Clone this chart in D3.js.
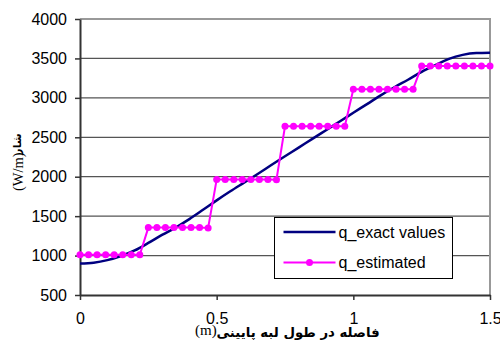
<!DOCTYPE html>
<html>
<head>
<meta charset="utf-8">
<script src="https://cdn.jsdelivr.net/npm/d3@7"></script>
<style>
  body { margin: 0; background: #fff; }
</style>
</head>
<body>
<div id="chart"></div>
<script>
// q_exact values
const exactX = [0, 0.05, 0.1, 0.15, 0.2, 0.25, 0.3, 0.35, 0.4, 0.45, 0.5, 0.55, 0.6, 0.65, 0.7, 0.75,
                0.8, 0.85, 0.9, 0.95, 1.0, 1.05, 1.1, 1.15, 1.2, 1.25, 1.3, 1.35, 1.4, 1.45, 1.5];
const exactQ = [900, 910, 942, 995, 1065, 1160, 1262, 1355, 1462, 1580, 1700, 1815, 1925, 2035, 2148, 2259,
                2369, 2480, 2590, 2700, 2811, 2921, 3032, 3135, 3230, 3330, 3415, 3495, 3545, 3568, 3572];

// q_estimated, 49 points on the mesh
const estQ = [1010, 1010, 1010, 1010, 1010, 1010, 1010, 1010,
              1355, 1355, 1355, 1355, 1355, 1355, 1355, 1350,
              1965, 1965, 1965, 1965, 1965, 1965, 1965, 1962,
              2640, 2640, 2640, 2640, 2640, 2640, 2640, 2640,
              3110, 3110, 3110, 3110, 3110, 3110, 3110, 3110,
              3405, 3405, 3405, 3405, 3405, 3405, 3405, 3405, 3405];
const estX = d3.range(estQ.length).map(i => i * 1.5 / (estQ.length - 1));

const xTicks = [0, 0.5, 1, 1.5];
const yTicks = [500, 1000, 1500, 2000, 2500, 3000, 3500, 4000];

const W = 500, H = 342;
const margin = {top: 19, right: 10, bottom: 47, left: 80};
const width = W - margin.left - margin.right,
      height = H - margin.top - margin.bottom;

const svg = d3.select("#chart").append("svg")
    .attr("width", W)
    .attr("height", H);

const g = svg.append("g")
    .attr("transform", "translate(" + margin.left + "," + margin.top + ")");

const x = d3.scaleLinear().domain([0, 1.5]).range([0, width]);
const y = d3.scaleLinear().domain([500, 4000]).range([height, 0]);

const font = "'Liberation Sans', Arial, sans-serif";

// gridlines
g.selectAll(".grid")
  .data(yTicks.slice(1, -1))
  .enter().append("line")
    .attr("x1", 0).attr("x2", width)
    .attr("y1", d => y(d)).attr("y2", d => y(d))
    .attr("stroke", "#555").attr("stroke-width", 1.2);

// top and right border
g.append("path")
  .attr("d", "M0," + y(4000) + "H" + width + "V" + height)
  .attr("fill", "none")
  .attr("stroke", "#999").attr("stroke-width", 2);

// axes
const yAxis = g.append("g")
  .call(d3.axisLeft(y).tickValues(yTicks).tickFormat(d3.format("d")).tickSize(5).tickPadding(8).tickSizeOuter(0));
const xAxis = g.append("g")
  .attr("transform", "translate(0," + height + ")")
  .call(d3.axisBottom(x).tickValues(xTicks).tickFormat(d3.format("")).tickSize(5).tickPadding(13).tickSizeOuter(0));

[yAxis, xAxis].forEach(a => {
  a.select(".domain").attr("stroke", "#333").attr("stroke-width", 2);
  a.selectAll(".tick line").attr("stroke", "#333").attr("stroke-width", 1.5);
  a.selectAll("text").attr("font-family", font).attr("font-size", 16).attr("fill", "#000");
});

// exact line
g.append("path")
  .datum(exactX.map((d, i) => [d, exactQ[i]]))
  .attr("fill", "none")
  .attr("stroke", "#000080")
  .attr("stroke-width", 2.5)
  .attr("d", d3.line().x(d => x(d[0])).y(d => y(d[1])).curve(d3.curveMonotoneX));

// estimated line + markers
const est = estX.map((d, i) => [d, estQ[i]]);
g.append("path")
  .datum(est)
  .attr("fill", "none")
  .attr("stroke", "#ff00ff")
  .attr("stroke-width", 2)
  .attr("d", d3.line().x(d => x(d[0])).y(d => y(d[1])));

g.selectAll(".pt")
  .data(est)
  .enter().append("circle")
    .attr("cx", d => x(d[0]))
    .attr("cy", d => y(d[1]))
    .attr("r", 3.5)
    .attr("fill", "#ff00ff");

// legend
const legend = svg.append("g").attr("transform", "translate(274.5,217.5)");
legend.append("rect")
  .attr("width", 178).attr("height", 61)
  .attr("fill", "#fff").attr("stroke", "#000").attr("stroke-width", 1);

const legendItems = [
  {name: "q_exact values", color: "#000080", w: 2.5, marker: false},
  {name: "q_estimated", color: "#ff00ff", w: 2, marker: true}
];
legendItems.forEach((d, i) => {
  const ly = 14.5 + i * 30.5;
  legend.append("line")
    .attr("x1", 9).attr("x2", 61).attr("y1", ly).attr("y2", ly)
    .attr("stroke", d.color).attr("stroke-width", d.w);
  if (d.marker) {
    legend.append("circle").attr("cx", 35).attr("cy", ly).attr("r", 3.5).attr("fill", d.color);
  }
  legend.append("text")
    .attr("x", 64).attr("y", ly).attr("dy", "0.35em")
    .attr("font-family", font).attr("font-size", 16)
    .text(d.name);
});

// x axis title
svg.append("text")
  .attr("x", 298).attr("y", 337)
  .attr("text-anchor", "middle")
  .attr("font-family", "'DejaVu Sans', sans-serif")
  .attr("font-weight", "bold")
  .attr("font-size", 13.3)
  .text("فاصله در طول لبه پایینی");
svg.append("text")
  .attr("x", 195).attr("y", 335)
  .attr("font-family", "'Liberation Serif', 'Times New Roman', serif")
  .attr("font-size", 15)
  .text("(m)");

// y axis title
const yt = svg.append("g").attr("transform", "translate(23,0) rotate(-90)");
yt.append("text")
  .attr("x", -191).attr("y", 0)
  .attr("font-family", "'Liberation Serif', 'Times New Roman', serif")
  .attr("font-size", 14.5)
  .text("(W/m)");
yt.append("text")
  .attr("x", -144).attr("y", -2)
  .attr("text-anchor", "middle")
  .attr("font-family", "'DejaVu Sans', sans-serif")
  .attr("font-weight", "bold")
  .attr("font-size", 11)
  .text("شار");
</script>
</body>
</html>
